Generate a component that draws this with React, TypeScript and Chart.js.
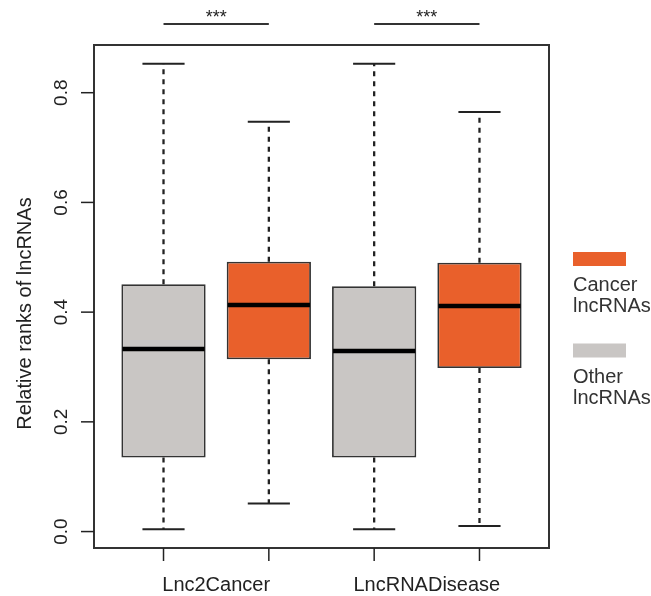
import React, { useEffect, useRef } from "react";
import { Chart, registerables } from "chart.js";

Chart.register(...registerables);

// ---- data ----
const groupLabels = ["Lnc2Cancer", "LncRNADisease"];
const otherPositions = [1, 3];
const cancerPositions = [2, 4];

const otherLow = [0.004, 0.004];
const otherQ1 = [0.135, 0.135];
const otherMedian = [0.333, 0.329];
const otherQ3 = [0.451, 0.447];
const otherHigh = [0.853, 0.853];

const cancerLow = [0.051, 0.010];
const cancerQ1 = [0.314, 0.298];
const cancerMedian = [0.413, 0.411];
const cancerQ3 = [0.492, 0.490];
const cancerHigh = [0.747, 0.765];

const yTicks = [0, 0.2, 0.4, 0.6, 0.8];
const sigPairs = [
  [1, 2],
  [3, 4],
];
const sigLabels = ["***", "***"];
const legendLabels = [
  ["Cancer", "lncRNAs"],
  ["Other", "lncRNAs"],
];
const yTitle = "Relative ranks of lncRNAs";

// ---- styles ----
const ORANGE = "#E9602B";
const GRAY = "#C9C6C4";
const INK = "#222222";
const FONT = "'Liberation Sans', Arial, sans-serif";

const allPositions = [...otherPositions, ...cancerPositions].sort((p, q) => p - q);
const nBoxes = allPositions.length;
const allLows = [...otherLow, ...cancerLow];
const allHighs = [...otherHigh, ...cancerHigh];
const dataMin = Math.min(...allLows);
const dataMax = Math.max(...allHighs);
const yExt = (dataMax - dataMin) * 0.04;
const xExt = nBoxes * 0.04;

const rPlugin = {
  id: "rBoxplot",
  afterDatasetsDraw(chart: any) {
    const { ctx } = chart;
    const y = chart.scales.y;
    chart.data.datasets.forEach((ds: any, di: number) => {
      const meta = chart.getDatasetMeta(di);
      meta.data.forEach((bar: any, i: number) => {
        const st = ds.stats[i];
        const cx = bar.x;
        const w = bar.width;
        const yHi = y.getPixelForValue(st.high);
        const yLo = y.getPixelForValue(st.low);
        const yQ1 = y.getPixelForValue(st.q1);
        const yQ3 = y.getPixelForValue(st.q3);
        const yMed = y.getPixelForValue(st.median);
        ctx.save();
        ctx.strokeStyle = INK;
        // whiskers
        ctx.lineWidth = 2.3;
        ctx.setLineDash([5, 5]);
        ctx.beginPath();
        ctx.moveTo(cx, yQ3);
        ctx.lineTo(cx, yHi);
        ctx.moveTo(cx, yQ1);
        ctx.lineTo(cx, yLo);
        ctx.stroke();
        ctx.setLineDash([]);
        // staples
        ctx.lineWidth = 2;
        ctx.beginPath();
        ctx.moveTo(cx - w / 4, yHi);
        ctx.lineTo(cx + w / 4, yHi);
        ctx.moveTo(cx - w / 4, yLo);
        ctx.lineTo(cx + w / 4, yLo);
        ctx.stroke();
        // median
        ctx.strokeStyle = "#000";
        ctx.lineWidth = 4.5;
        ctx.beginPath();
        ctx.moveTo(cx - w / 2 + 1, yMed);
        ctx.lineTo(cx + w / 2 - 1, yMed);
        ctx.stroke();
        ctx.restore();
      });
    });
  },
  afterDraw(chart: any) {
    const { ctx, chartArea: a } = chart;
    const x = chart.scales.x;
    const y = chart.scales.y;
    ctx.save();
    // frame
    ctx.strokeStyle = "#333";
    ctx.lineWidth = 2;
    ctx.strokeRect(a.left, a.top, a.right - a.left, a.bottom - a.top);

    // y ticks
    ctx.lineWidth = 1.5;
    ctx.strokeStyle = INK;
    ctx.fillStyle = INK;
    ctx.font = `19px ${FONT}`;
    yTicks.forEach((t) => {
      const py = y.getPixelForValue(t);
      ctx.beginPath();
      ctx.moveTo(a.left - 13, py);
      ctx.lineTo(a.left, py);
      ctx.stroke();
      ctx.save();
      ctx.translate(a.left - 27, py);
      ctx.rotate(-Math.PI / 2);
      ctx.textAlign = "center";
      ctx.textBaseline = "alphabetic";
      ctx.fillText(t.toFixed(1), 0, 0);
      ctx.restore();
    });

    // x ticks
    allPositions.forEach((p) => {
      const px = x.getPixelForValue(p);
      ctx.beginPath();
      ctx.moveTo(px, a.bottom);
      ctx.lineTo(px, a.bottom + 13);
      ctx.stroke();
    });
    ctx.font = `20px ${FONT}`;
    ctx.textAlign = "center";
    ctx.textBaseline = "alphabetic";
    groupLabels.forEach((lab, gi) => {
      const px = x.getPixelForValue((otherPositions[gi] + cancerPositions[gi]) / 2);
      ctx.fillText(lab, px, a.bottom + 43);
    });

    // y title
    ctx.save();
    ctx.translate(31, (a.top + a.bottom) / 2 + 17);
    ctx.rotate(-Math.PI / 2);
    ctx.textAlign = "center";
    ctx.fillText(yTitle, 0, 0);
    ctx.restore();

    // significance
    ctx.strokeStyle = "#333";
    ctx.lineWidth = 2;
    ctx.font = `18px ${FONT}`;
    sigPairs.forEach((pair, i) => {
      const x1 = x.getPixelForValue(pair[0]);
      const x2 = x.getPixelForValue(pair[1]);
      const ly = a.top - 21;
      ctx.beginPath();
      ctx.moveTo(x1, ly);
      ctx.lineTo(x2, ly);
      ctx.stroke();
      ctx.fillText(sigLabels[i], (x1 + x2) / 2, ly - 1);
    });

    // legend
    const colors = [ORANGE, GRAY];
    ctx.font = `20px ${FONT}`;
    ctx.textAlign = "left";
    legendLabels.forEach((lines, i) => {
      const lx = a.right + 24;
      const top = a.top + 207 + i * 91.5;
      ctx.fillStyle = colors[i];
      ctx.fillRect(lx, top, 53, 14);
      ctx.fillStyle = "#333";
      lines.forEach((ln, j) => {
        ctx.fillText(ln, lx, top + 39 + j * 21);
      });
    });
    ctx.restore();
  },
};

function makeDataset(label: string, pos: number[], lo: number[], q1: number[], med: number[], q3: number[], hi: number[], color: string) {
  return {
    label,
    data: pos.map((p, i) => ({ x: p, y: [q1[i], q3[i]] })),
    stats: pos.map((_, i) => ({ low: lo[i], q1: q1[i], median: med[i], q3: q3[i], high: hi[i] })),
    backgroundColor: color,
    borderColor: "#333",
    borderWidth: 1.8,
    borderSkipped: false,
    barPercentage: 0.8,
    categoryPercentage: 1,
    grouped: false,
  };
}

export default function App() {
  const ref = useRef<HTMLCanvasElement | null>(null);
  useEffect(() => {
    if (!ref.current) return;
    const chart = new Chart(ref.current, {
      type: "bar",
      data: {
        datasets: [
          makeDataset("Other lncRNAs", otherPositions, otherLow, otherQ1, otherMedian, otherQ3, otherHigh, GRAY),
          makeDataset("Cancer lncRNAs", cancerPositions, cancerLow, cancerQ1, cancerMedian, cancerQ3, cancerHigh, ORANGE),
        ] as any,
      },
      options: {
        animation: false,
        responsive: false,
        layout: { padding: { left: 94, right: 102, top: 45, bottom: 48 } },
        plugins: { legend: { display: false }, tooltip: { enabled: false } },
        scales: {
          x: {
            type: "linear",
            display: false,
            offset: false,
            min: 0.5 - xExt,
            max: nBoxes + 0.5 + xExt,
            afterBuildTicks: (s: any) => {
              s.ticks = allPositions.map((v) => ({ value: v }));
            },
          },
          y: {
            type: "linear",
            display: false,
            min: dataMin - yExt,
            max: dataMax + yExt,
          },
        },
      },
      plugins: [rPlugin],
    });
    return () => chart.destroy();
  }, []);
  return (
    <div style={{ position: "absolute", left: 0, top: 0, width: 651, height: 596, background: "#fff" }}>
      <canvas ref={ref} width={651} height={596} style={{ display: "block" }} />
    </div>
  );
}
